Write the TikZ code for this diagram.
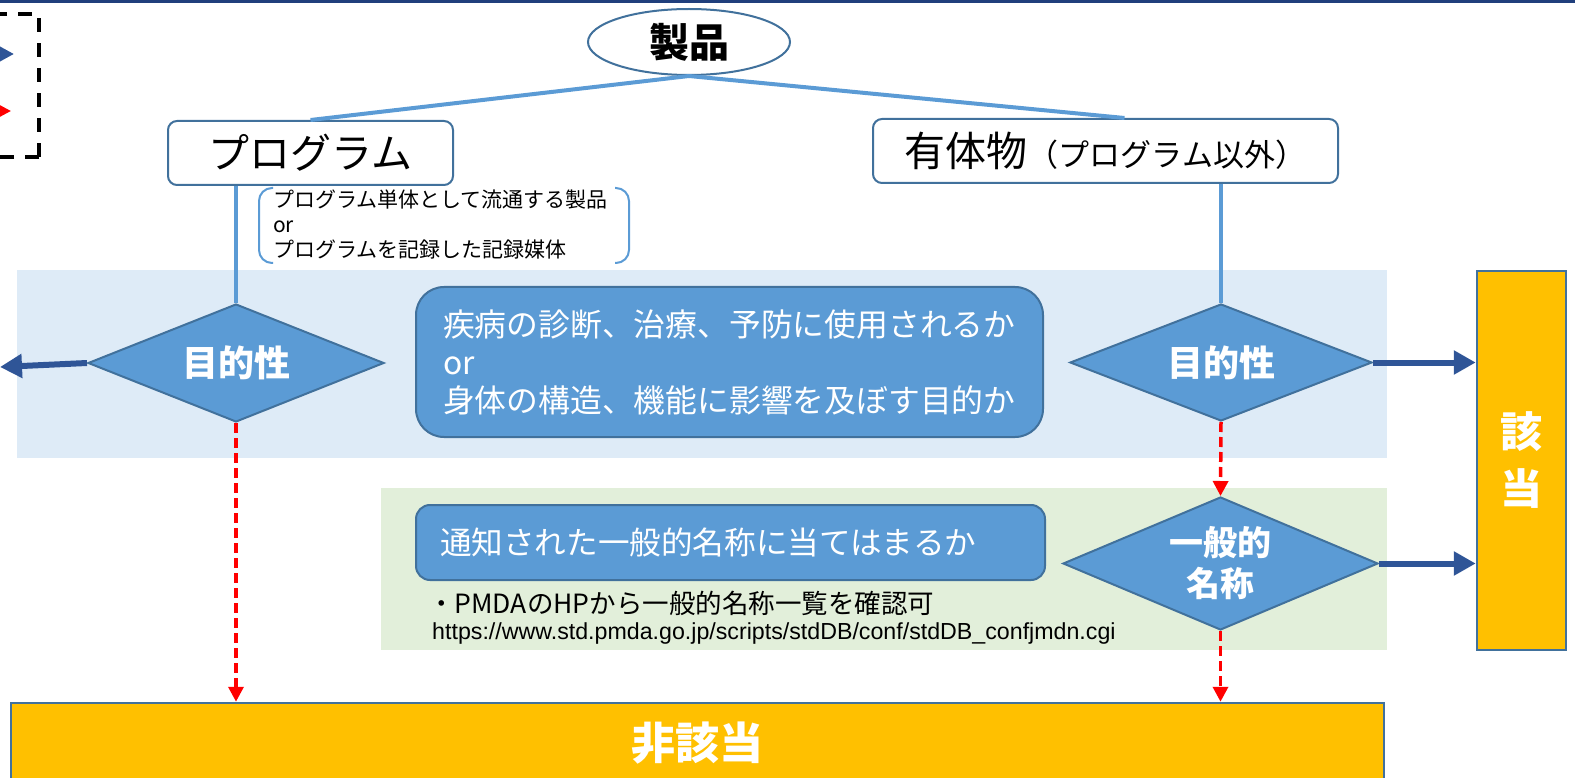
\documentclass[tikz,border=0pt]{standalone}
\usepackage{fontspec}
\setmainfont{Noto Sans CJK JP}
\newfontfamily\urlfont{Liberation Sans}
\usetikzlibrary{shapes.geometric,arrows.meta}
\definecolor{topbar}{HTML}{203F7C}
\definecolor{edge}{HTML}{41719C}
\definecolor{fillblue}{HTML}{5B9BD5}
\definecolor{lineblue}{HTML}{5B9BD5}
\definecolor{bandblue}{HTML}{DEEBF7}
\definecolor{bandgreen}{HTML}{E2EFDA}
\definecolor{gold}{HTML}{FFC000}
\definecolor{darkarrow}{HTML}{2F5597}
\tikzset{
  rbox/.style={draw=edge, line width=2pt, fill=white, rounded corners=9pt, inner sep=0pt},
  qbox/.style={draw=edge, line width=2pt, fill=fillblue, text=white, align=left, inner ysep=0pt},
  dia/.style={diamond, aspect=2.4, draw=edge, line width=2pt, fill=fillblue, text=white, inner sep=0pt, align=center},
  goldbox/.style={draw=edge, line width=2.5pt, fill=gold, text=white, inner sep=0pt, align=center},
  conn/.style={draw=lineblue, line width=4pt},
  yesarrow/.style={draw=darkarrow, line width=6pt, -{Triangle[length=22pt,width=23pt]}},
  noarrow/.style={draw=red, line width=3.5pt, dash pattern=on 10pt off 5pt, -{Triangle[length=15pt,width=15pt]}},
  notetext/.style={inner sep=0pt, align=left, anchor=west},
}
\begin{document}
\begin{tikzpicture}[x=1pt,y=-1pt]
\useasboundingbox (0,0) rectangle (1575,778);
\clip (0,0) rectangle (1575,778);
% top bar
\fill[topbar] (0,0) rectangle (1575,3);
% bands
\fill[bandblue] (17,270) rectangle (1387,458);
\fill[bandgreen] (381,488) rectangle (1387,650);
% legend
\draw[black, line width=4pt, dash pattern=on 14pt off 11pt] (39,157) -- (39,14) -- (-120,14);
\draw[black, line width=4pt, dash pattern=on 14pt off 11pt] (39,157) -- (-120,157);
\coordinate (lgA) at (14,54);
\coordinate (lgB) at (11,111);
\draw[darkarrow, line width=5pt, -{Triangle[length=16pt,width=16pt]}] (-40,54) -- (lgA);
\draw[red, line width=3pt, -{Triangle[length=14pt,width=14pt]}] (-40,111) -- (lgB);
% nodes
\node[ellipse, draw=edge, line width=2pt, fill=white, minimum width=202pt, minimum height=66pt, inner sep=0pt,
      font=\bfseries\fontsize{40}{44}\selectfont] (seihin) at (689,42) {製品};
\node[rbox, minimum width=285pt, minimum height=64pt, font=\fontsize{41}{44}\selectfont] (prog) at (310.5,153) {プログラム};
\node[rbox, minimum width=465pt, minimum height=64pt] (obj) at (1105.5,151)
   {\fontsize{41}{44}\selectfont 有体物\fontsize{31}{32}\selectfont（プログラム以外）};
\node[notetext, font=\fontsize{21}{25}\selectfont] (note) at (273,225)
   {プログラム単体として流通する製品\\or\\プログラムを記録した記録媒体};
\node[qbox, rounded corners=28pt, text width=573pt, inner xsep=27pt, minimum height=150pt,
      font=\fontsize{31.8}{38}\selectfont] (q1) at (729.5,362)
   {疾病の診断、治療、予防に使用されるか\\or\\身体の構造、機能に影響を及ぼす目的か};
\node[qbox, rounded corners=14pt, text width=581pt, inner xsep=24pt, minimum height=75pt,
      font=\fontsize{31.6}{36}\selectfont] (q2) at (730.5,542.5) {通知された一般的名称に当てはまるか};
\node[notetext, font=\fontsize{26.5}{28}\selectfont] (pmda) at (428,603) {・PMDAのHPから一般的名称一覧を確認可};
\node[notetext, font=\urlfont\fontsize{23.2}{26}\selectfont] (url) at (432,633)
   {https://www.std.pmda.go.jp/scripts/stdDB/conf/stdDB\_confjmdn.cgi};
\node[dia, minimum width=296pt, minimum height=118pt, font=\bfseries\fontsize{36}{40}\selectfont] (d1) at (236,363) {目的性};
\node[dia, minimum width=302pt, minimum height=117pt, font=\bfseries\fontsize{36}{40}\selectfont] (d2) at (1221,362.5) {目的性};
\node[dia, minimum width=315pt, minimum height=133pt, font=\bfseries\fontsize{34}{41}\selectfont] (d3) at (1220.5,563.5) {一般的\\名称};
\node[goldbox, minimum width=89pt, minimum height=379pt, font=\bfseries\fontsize{42}{57}\selectfont] (gai) at (1521.5,460.5) {該\\当};
\node[goldbox, minimum width=1373pt, minimum height=80pt, font=\bfseries\fontsize{44}{48}\selectfont] (hi) at (697.5,743) {非該当};
% brackets of note
\draw[lineblue, line width=2pt, rounded corners=13pt] (273,188) -- (259,188) -- (259,263) -- (273,263);
\draw[lineblue, line width=2pt, rounded corners=13pt] (615,188) -- (629,188) -- (629,263) -- (615,263);
% connectors
\draw[conn] (seihin.south) -- (prog.north);
\draw[conn] (seihin.south) -- ([xshift=19pt]obj.north);
\draw[conn] (d1.north |- prog.south) -- (d1.north);
\draw[conn] (d2.north |- obj.south) -- (d2.north);
\coordinate (leftout) at (0,367);
\draw[yesarrow] (d1.west) -- (leftout);
\draw[yesarrow] (d2.east) -- (d2.east -| gai.west);
\draw[yesarrow] (d3.east) -- (d3.east -| gai.west);
\draw[noarrow] (d1.south) -- (d1.south |- hi.north);
\draw[noarrow] (d2.south) -- (d3.north);
\draw[noarrow] (d3.south) -- (d3.south |- hi.north);
\end{tikzpicture}
\end{document}
